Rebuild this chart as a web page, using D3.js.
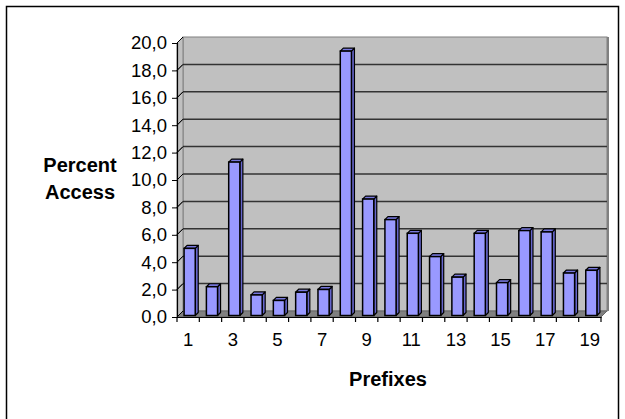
<!DOCTYPE html>
<html>
<head>
<meta charset="utf-8">
<script src="https://cdn.jsdelivr.net/npm/d3@7"></script>
<style>
  body { margin: 0; background: #fff; }
  text { font-family: "Liberation Sans", Arial, sans-serif; }
</style>
</head>
<body>
<div id="chart"></div>
<script>
const prefixes = [1, 2, 3, 4, 5, 6, 7, 8, 9, 10, 11, 12, 13, 14, 15, 16, 17, 18, 19];
const percentAccess = [4.9, 2.1, 11.2, 1.5, 1.1, 1.7, 1.9, 19.3, 8.5, 7.0, 6.0, 4.3, 2.8, 6.0, 2.4, 6.2, 6.1, 3.1, 3.3];
const yTicks = [0, 2, 4, 6, 8, 10, 12, 14, 16, 18, 20];
const xLabels = [1, 3, 5, 7, 9, 11, 13, 15, 17, 19];

const width = 625;
const height = 419;
const depth = 6; // 3d wall depth

const svg = d3.select("#chart")
  .append("svg")
  .attr("width", width)
  .attr("height", height);

// outer frame
svg.append("rect")
  .attr("x", 6.5).attr("y", 6.5)
  .attr("width", 612).attr("height", 440)
  .attr("fill", "#fff")
  .attr("stroke", "#000")
  .attr("stroke-width", 1.5);

const x = d3.scaleBand()
  .domain(prefixes)
  .range([177, 601]);

const y = d3.scaleLinear()
  .domain([0, 20])
  .range([317, 43]);

const x0 = x.range()[0], x1 = x.range()[1];
const yb = y(0), yt = y(20);

// back wall
svg.append("rect")
  .attr("x", x0 + depth).attr("y", yt - depth)
  .attr("width", x1 - x0).attr("height", yb - yt)
  .attr("fill", "#c0c0c0")
  .attr("stroke", "#808080")
  .attr("stroke-width", 1);

// right edge of back wall
svg.append("line")
  .attr("x1", x1 + depth + 1).attr("x2", x1 + depth + 1)
  .attr("y1", yt - depth).attr("y2", yb - depth)
  .attr("stroke", "#808080").attr("stroke-width", 2);

// side wall
svg.append("path")
  .attr("d", `M${x0},${yt}L${x0 + depth},${yt - depth}L${x0 + depth},${yb - depth}L${x0},${yb}Z`)
  .attr("fill", "#c0c0c0")
  .attr("stroke", "#808080")
  .attr("stroke-width", 1);

// floor
svg.append("path")
  .attr("d", `M${x0},${yb}L${x0 + depth},${yb - depth}L${x1 + depth},${yb - depth}L${x1},${yb}Z`)
  .attr("fill", "#808080")
  .attr("stroke", "#666")
  .attr("stroke-width", 1);

// gridlines
const grid = svg.append("g");
yTicks.filter(d => d > 0 && d < 20).forEach(v => {
  grid.append("line")
    .attr("x1", x0 + depth).attr("x2", x1 + depth)
    .attr("y1", y(v) - depth).attr("y2", y(v) - depth)
    .attr("stroke", "#333").attr("stroke-width", 1.5);
  grid.append("line")
    .attr("x1", x0).attr("x2", x0 + depth)
    .attr("y1", y(v)).attr("y2", y(v) - depth)
    .attr("stroke", "#333").attr("stroke-width", 1);
});

// bars
const barW = x.bandwidth() * 0.5;
const bd = 3;
const bars = svg.append("g")
  .selectAll("g")
  .data(prefixes.map((p, i) => ({ p, v: percentAccess[i] })))
  .join("g");

const bx = d => x(d.p) + (x.bandwidth() - barW) / 2 + 1.5;
const by0 = yb - 1.5;
const by = d => y(d.v) - 1.5;

bars.append("path") // side
  .attr("d", d => `M${bx(d) + barW},${by0}L${bx(d) + barW + bd},${by0 - bd}L${bx(d) + barW + bd},${by(d) - bd}L${bx(d) + barW},${by(d)}Z`)
  .attr("fill", "#6666cc")
  .attr("stroke", "#000")
  .attr("stroke-width", 1.2)
  .attr("stroke-linejoin", "round");

bars.append("path") // top
  .attr("d", d => `M${bx(d)},${by(d)}L${bx(d) + bd},${by(d) - bd}L${bx(d) + barW + bd},${by(d) - bd}L${bx(d) + barW},${by(d)}Z`)
  .attr("fill", "#7777dd")
  .attr("stroke", "#000")
  .attr("stroke-width", 1.2)
  .attr("stroke-linejoin", "round");

bars.append("rect") // front
  .attr("x", bx)
  .attr("y", by)
  .attr("width", barW)
  .attr("height", d => by0 - by(d))
  .attr("fill", "#9999ff")
  .attr("stroke", "#000")
  .attr("stroke-width", 1.5);

// y axis
svg.append("g")
  .attr("transform", `translate(${x0},0)`)
  .call(d3.axisLeft(y).tickValues(yTicks).tickSize(5).tickPadding(5)
    .tickFormat(d => d3.format(".1f")(d).replace(".", ",")))
  .call(g => g.selectAll("text")
    .attr("font-size", 18.5)
    .attr("font-family", "Liberation Sans, Arial, sans-serif")
    .attr("fill", "#000"))
  .call(g => g.select(".domain").attr("stroke", "#000").attr("stroke-width", 1.2));

// slanted tick extensions into side wall
svg.append("g").selectAll("line")
  .data(yTicks)
  .join("line")
  .attr("x1", x0).attr("x2", x0 + depth)
  .attr("y1", d => y(d)).attr("y2", d => y(d) - depth)
  .attr("stroke", "#000").attr("stroke-width", 1);

// x axis
svg.append("g")
  .attr("transform", `translate(0,${yb})`)
  .call(d3.axisBottom(x).tickSize(0).tickPadding(16)
    .tickFormat(d => xLabels.includes(d) ? d : ""))
  .call(g => g.selectAll("text")
    .attr("font-size", 18.5)
    .attr("font-family", "Liberation Sans, Arial, sans-serif")
    .attr("fill", "#000"))
  .call(g => g.select(".domain").attr("stroke", "#000").attr("stroke-width", 1.2));

// x ticks at band edges
svg.append("g").selectAll("line")
  .data(prefixes.concat([null]))
  .join("line")
  .attr("x1", d => d === null ? x1 : x(d))
  .attr("x2", d => d === null ? x1 : x(d))
  .attr("y1", yb).attr("y2", yb + 5)
  .attr("stroke", "#000").attr("stroke-width", 1.2);

// axis titles
svg.append("text")
  .attr("x", 80).attr("y", 172)
  .attr("text-anchor", "middle")
  .attr("font-size", 20).attr("font-weight", "bold")
  .text("Percent");
svg.append("text")
  .attr("x", 80).attr("y", 199)
  .attr("text-anchor", "middle")
  .attr("font-size", 20).attr("font-weight", "bold")
  .text("Access");

svg.append("text")
  .attr("x", 388).attr("y", 386)
  .attr("text-anchor", "middle")
  .attr("font-size", 20).attr("font-weight", "bold")
  .text("Prefixes");
</script>
</body>
</html>
